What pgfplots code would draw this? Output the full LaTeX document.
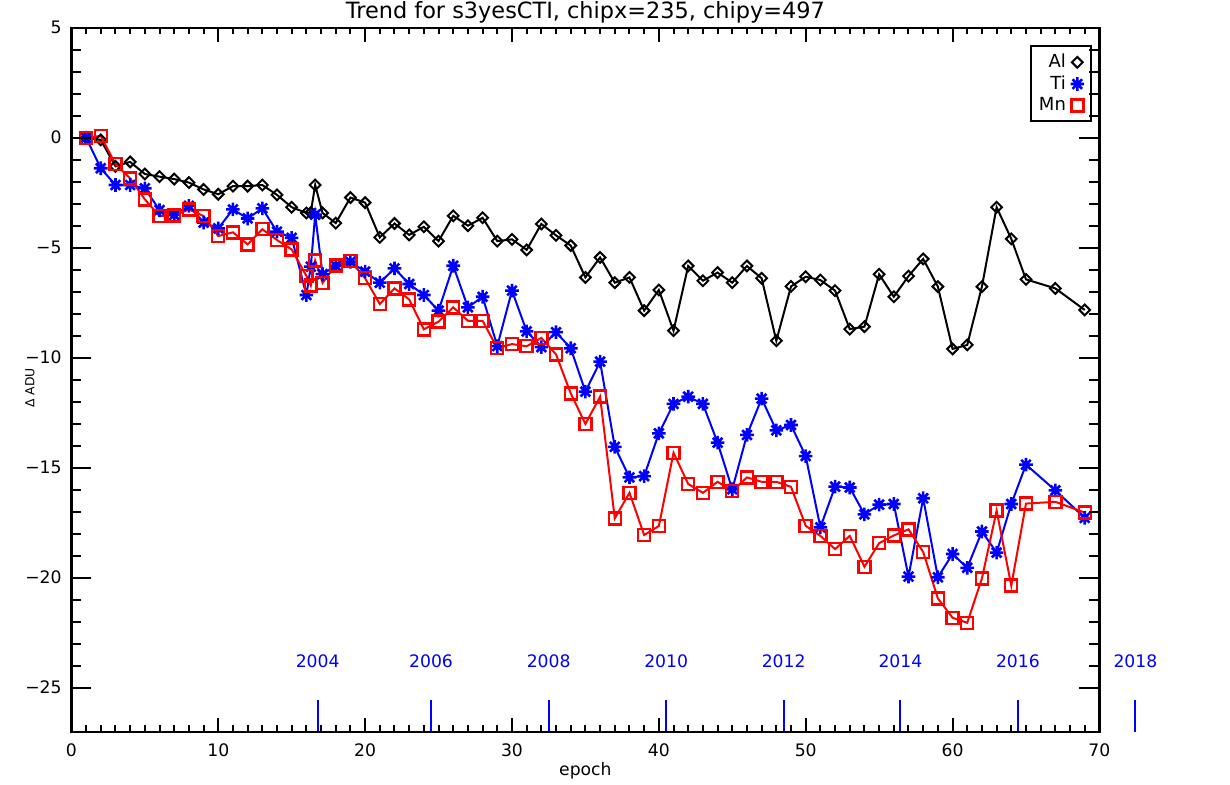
\documentclass[border=0pt]{standalone}
\usepackage{pgfplots}
\pgfplotsset{compat=1.18}
\usepackage{fontspec}
\setmainfont{DejaVu Sans}
\pgfdeclareplotmark{ast8}{%
 \pgfpathmoveto{\pgfqpoint{-\pgfplotmarksize}{0pt}}\pgfpathlineto{\pgfqpoint{\pgfplotmarksize}{0pt}}%
 \pgfpathmoveto{\pgfqpoint{0pt}{-\pgfplotmarksize}}\pgfpathlineto{\pgfqpoint{0pt}{\pgfplotmarksize}}%
 \pgfpathmoveto{\pgfqpoint{-0.707\pgfplotmarksize}{-0.707\pgfplotmarksize}}\pgfpathlineto{\pgfqpoint{0.707\pgfplotmarksize}{0.707\pgfplotmarksize}}%
 \pgfpathmoveto{\pgfqpoint{-0.707\pgfplotmarksize}{0.707\pgfplotmarksize}}\pgfpathlineto{\pgfqpoint{0.707\pgfplotmarksize}{-0.707\pgfplotmarksize}}%
 \pgfusepathqstroke}
\definecolor{idlblue}{RGB}{0,0,255}
\definecolor{idlred}{RGB}{255,0,0}
\pgfplotstableread{
e v
1 0
2 -0.1
3 -1.3
4 -1.1
5 -1.65
6 -1.77
7 -1.88
8 -2.04
9 -2.35
10 -2.57
11 -2.2
12 -2.2
13 -2.15
14 -2.6
15 -3.16
16 -3.42
16.3 -3.4
16.6 -2.15
17.1 -3.42
18 -3.88
19 -2.72
20 -2.95
21 -4.53
22 -3.9
23 -4.42
24 -4.05
25 -4.7
26 -3.55
27 -4.0
28 -3.64
29 -4.7
30 -4.62
31 -5.1
32 -3.92
33 -4.44
34 -4.9
35 -6.35
36 -5.44
37 -6.59
38 -6.35
39 -7.86
40 -6.92
41 -8.77
42 -5.83
43 -6.5
44 -6.13
45 -6.59
46 -5.83
47 -6.39
48 -9.23
49 -6.76
50 -6.32
51 -6.47
52 -6.95
53 -8.7
54 -8.59
55 -6.21
56 -7.23
57 -6.29
58 -5.51
59 -6.77
60 -9.6
61 -9.42
62 -6.77
63 -3.16
64 -4.6
65 -6.44
67 -6.85
69 -7.83
}\tabAl
\pgfplotstableread{
e v
1 0
2 -1.39
3 -2.15
4 -2.15
5 -2.3
6 -3.29
7 -3.51
8 -3.1
9 -3.86
10 -4.12
11 -3.26
12 -3.67
13 -3.21
14 -4.27
15 -4.55
16 -7.15
16.3 -5.86
16.6 -3.5
17.1 -6.2
18 -5.82
19 -5.64
20 -6.09
21 -6.59
22 -5.94
23 -6.65
24 -7.15
25 -7.86
26 -5.82
27 -7.71
28 -7.23
29 -9.47
30 -6.95
31 -8.8
32 -9.52
33 -8.84
34 -9.57
35 -11.54
36 -10.18
37 -14.05
38 -15.44
39 -15.38
40 -13.44
41 -12.1
42 -11.77
43 -12.1
44 -13.86
45 -15.98
46 -13.51
47 -11.86
48 -13.3
49 -13.06
50 -14.47
51 -17.71
52 -15.86
53 -15.9
54 -17.12
55 -16.68
56 -16.65
57 -19.95
58 -16.39
59 -19.98
60 -18.92
61 -19.55
62 -17.9
63 -18.86
64 -16.65
65 -14.86
67 -16.03
69 -17.28
}\tabTi
\pgfplotstableread{
e v
1 0
2 0.08
3 -1.2
4 -1.85
5 -2.8
6 -3.56
7 -3.54
8 -3.26
9 -3.56
10 -4.47
11 -4.3
12 -4.85
13 -4.16
14 -4.65
15 -5.08
16 -6.28
16.3 -6.72
16.6 -5.59
17.1 -6.6
18 -5.8
19 -5.6
20 -6.39
21 -7.56
22 -6.85
23 -7.35
24 -8.71
25 -8.36
26 -7.71
27 -8.32
28 -8.32
29 -9.57
30 -9.38
31 -9.48
32 -9.1
33 -9.85
34 -11.62
35 -13.01
36 -11.77
37 -17.3
38 -16.14
39 -18.06
40 -17.65
41 -14.32
42 -15.74
43 -16.14
44 -15.64
45 -16.05
46 -15.44
47 -15.64
48 -15.64
49 -15.87
50 -17.64
51 -18.1
52 -18.7
53 -18.1
54 -19.5
55 -18.43
56 -18.08
57 -17.8
58 -18.83
59 -20.94
60 -21.82
61 -22.05
62 -20.03
63 -16.95
64 -20.36
65 -16.63
67 -16.55
69 -17.04
}\tabMn
\begin{document}
\begin{tikzpicture}
\begin{axis}[
  at={(0,0)}, anchor=south west, scale only axis,
  width=514pt, height=352pt,
  xmin=0, xmax=70, ymin=-27, ymax=5,
  clip=false,
  axis line style={line width=1.1pt},
  xtick={0,10,...,70},
  xticklabels={0,10,20,30,40,50,60,70},
  minor x tick num=9,
  ytick=\empty,
  major tick length=7pt, minor tick length=3.2pt,
  tick style={line width=1pt, black},
  tick align=inside,
  xticklabel style={anchor=base, yshift=-12.6pt, font=\fontsize{8.6}{10}\selectfont},
  xlabel={epoch},
  xlabel style={at={(rel axis cs:0.5,0)}, anchor=base, yshift=-22pt, font=\fontsize{8.6}{10}\selectfont},
  title={Trend for s3yesCTI, chipx=235, chipy=497},
  title style={at={(rel axis cs:0.5,1)}, anchor=base, yshift=-1.3pt, font=\fontsize{11.2}{13}\selectfont},
  legend plot pos=right,
  legend cell align=right,
  legend image code/.code={\path[draw=none, fill=none] (0cm,0cm) -- (0.3cm,0cm); \draw[#1, only marks] plot coordinates {(0.13cm,0cm)};},
  legend style={at={(rel axis cs:0.9928,0.9754)}, anchor=north east, draw=black, line width=1pt,
    font=\fontsize{9}{10}\selectfont, inner xsep=2pt, inner ysep=2pt, row sep=-1.5pt},
]
\addplot[black, line width=1pt, mark=square, mark size=1.9pt, mark options={solid, rotate=45, fill=white, line width=1pt}] table[x=e,y=v] {\tabAl};
\addlegendentry{Al}
\addplot[idlblue, line width=1pt, mark=ast8, mark size=3.4pt, mark options={solid, line width=1.3pt}] table[x=e,y=v] {\tabTi};
\addlegendentry{Ti}
\addplot[idlred, line width=1pt, mark=square, mark size=3pt, mark options={solid, fill=white, line width=1.2pt}] table[x=e,y=v] {\tabMn};
\addlegendentry{Mn}
\addplot[idlblue, line width=1pt, forget plot] coordinates {(16.77,-25.56) (16.77,-27)};
\addplot[idlblue, line width=1pt, forget plot] coordinates {(24.49,-25.56) (24.49,-27)};
\addplot[idlblue, line width=1pt, forget plot] coordinates {(32.5,-25.56) (32.5,-27)};
\addplot[idlblue, line width=1pt, forget plot] coordinates {(40.5,-25.56) (40.5,-27)};
\addplot[idlblue, line width=1pt, forget plot] coordinates {(48.5,-25.56) (48.5,-27)};
\addplot[idlblue, line width=1pt, forget plot] coordinates {(56.45,-25.56) (56.45,-27)};
\addplot[idlblue, line width=1pt, forget plot] coordinates {(64.45,-25.56) (64.45,-27)};
\addplot[idlblue, line width=1pt, forget plot] coordinates {(72.45,-25.56) (72.45,-27)};
\begin{scope}[every node/.style={text=idlblue, font=\fontsize{8.6}{10}\selectfont, anchor=center}]
\node at (axis cs:16.77,-23.79) {2004};
\node at (axis cs:24.49,-23.79) {2006};
\node at (axis cs:32.5,-23.79) {2008};
\node at (axis cs:40.5,-23.79) {2010};
\node at (axis cs:48.5,-23.79) {2012};
\node at (axis cs:56.45,-23.79) {2014};
\node at (axis cs:64.45,-23.79) {2016};
\node at (axis cs:72.45,-23.79) {2018};
\end{scope}
\end{axis}
\begin{axis}[
  at={(0,0)}, anchor=south west, scale only axis,
  width=514pt, height=352pt,
  xmin=0, xmax=70, ymin=-27, ymax=5,
  axis line style={line width=1.1pt},
  xtick=\empty,
  ytick={-25,-20,-15,-10,-5,0,5},
  yticklabels={−25,−20,−15,−10,−5,0,5},
  minor y tick num=4,
  major tick length=10pt, minor tick length=5pt,
  tick style={line width=1pt, black},
  tick align=inside,
  yticklabel style={anchor=east, inner sep=0pt, xshift=-4.7pt, font=\fontsize{8.6}{10}\selectfont},
  ylabel={Δ ADU},
  ylabel style={at={(rel axis cs:0,0.5)}, anchor=center, xshift=-4pt, yshift=20.7pt, font=\fontsize{6.2}{7}\selectfont},
]
\end{axis}
\pgfresetboundingbox
\path[use as bounding box] (-35.7pt,-26.15pt) rectangle (579.3pt,365.85pt);
\end{tikzpicture}
\end{document}
